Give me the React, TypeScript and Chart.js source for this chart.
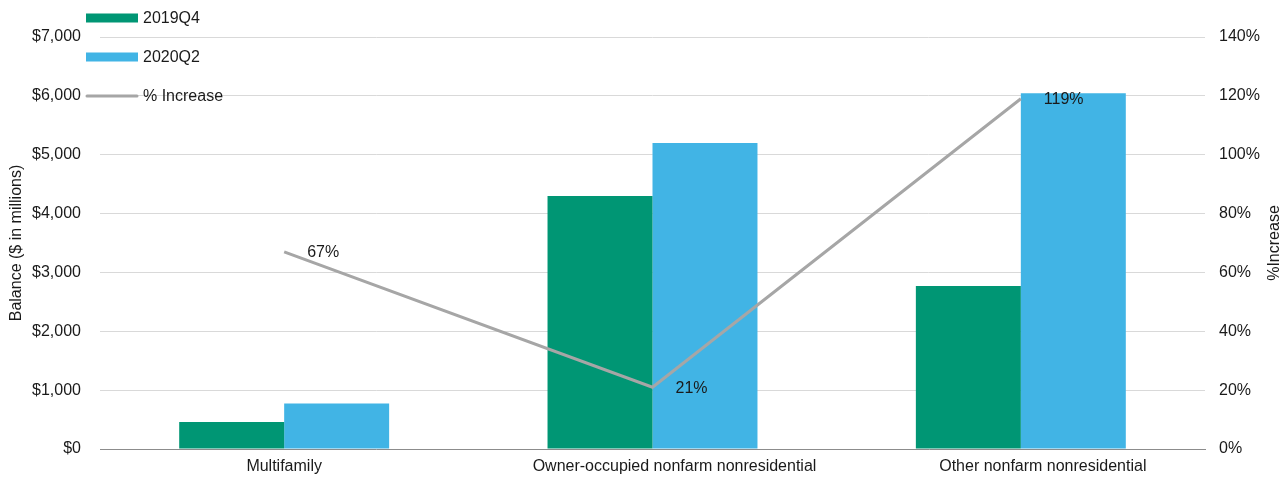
import React, { useEffect, useRef } from "react";
import { Chart, registerables } from "chart.js";

Chart.register(...registerables);

const categories = ["Multifamily", "Owner-occupied nonfarm nonresidential", "Other nonfarm nonresidential"];
const balance2019Q4 = [460, 4300, 2770];
const balance2020Q2 = [775, 5200, 6045];
const pctIncrease = [67, 21, 119];
const seriesNames = ["2019Q4", "2020Q2", "% Increase"];
const leftTitle = "Balance ($ in millions)";
const rightTitle = "%Increase";

const GREEN = "#009674";
const BLUE = "#41b4e5";
const GRAY = "#a6a6a6";
const FONT = "'Liberation Sans', Arial, sans-serif";
const TEXT = "#1a1a1a";
const FS = 16;
// horizontal nudge of the category labels, as in the reference layout
const LABEL_NUDGE = [0, 22, 22];

const overlayPlugin = {
  id: "overlay",
  afterDatasetsDraw(chart: any) {
    const ctx = chart.ctx;
    const area = chart.chartArea;
    ctx.save();
    // line point labels
    const meta = chart.getDatasetMeta(2);
    ctx.font = `${FS}px ${FONT}`;
    ctx.fillStyle = TEXT;
    ctx.textBaseline = "middle";
    ctx.textAlign = "left";
    meta.data.forEach((pt: any, i: number) => {
      ctx.fillText(pctIncrease[i] + "%", pt.x + 23, pt.y + 1);
    });
    // category labels
    const xs = chart.scales.x;
    ctx.textAlign = "center";
    categories.forEach((c, i) => {
      ctx.fillText(c, xs.getPixelForValue(i) + LABEL_NUDGE[i], area.bottom + 18);
    });
    // axis titles (both read bottom-to-top)
    const cy = (area.top + area.bottom) / 2;
    [[17, leftTitle], [1275, rightTitle]].forEach(([x, t]: any) => {
      ctx.save();
      ctx.translate(x, cy);
      ctx.rotate(-Math.PI / 2);
      ctx.textAlign = "center";
      ctx.textBaseline = "middle";
      ctx.fillStyle = TEXT;
      ctx.fillText(t, 0, 0);
      ctx.restore();
    });
    // custom legend
    const colors = [GREEN, BLUE, GRAY];
    const rows = [18, 57, 96];
    rows.forEach((y, i) => {
      if (i < 2) {
        ctx.fillStyle = colors[i];
        ctx.fillRect(86, y - 4.5, 52, 9);
      } else {
        ctx.strokeStyle = GRAY;
        ctx.lineWidth = 3;
        ctx.lineCap = "round";
        ctx.beginPath();
        ctx.moveTo(87, y);
        ctx.lineTo(137, y);
        ctx.stroke();
      }
      ctx.fillStyle = TEXT;
      ctx.font = `${FS}px ${FONT}`;
      ctx.textAlign = "left";
      ctx.textBaseline = "middle";
      ctx.fillText(seriesNames[i], 143, y + 1);
    });
    ctx.restore();
  },
};

export default function App() {
  const ref = useRef<HTMLCanvasElement>(null);
  useEffect(() => {
    if (!ref.current) return;
    const chart = new Chart(ref.current, {
      type: "bar",
      data: {
        labels: categories,
        datasets: [
          {
            type: "bar",
            label: seriesNames[0],
            data: balance2019Q4,
            backgroundColor: GREEN,
            yAxisID: "y",
            order: 2,
            categoryPercentage: 0.57,
            barPercentage: 1.0,
          },
          {
            type: "bar",
            label: seriesNames[1],
            data: balance2020Q2,
            backgroundColor: BLUE,
            yAxisID: "y",
            order: 2,
            categoryPercentage: 0.57,
            barPercentage: 1.0,
          },
          {
            type: "line",
            label: seriesNames[2],
            data: pctIncrease,
            borderColor: GRAY,
            borderWidth: 3,
            pointRadius: 0,
            yAxisID: "y1",
            order: 0,
            tension: 0,
          } as any,
        ],
      },
      options: {
        responsive: false,
        animation: false,
        layout: { padding: { top: 37, left: 0, right: 0, bottom: 0 } },
        plugins: {
          legend: { display: false },
          tooltip: { enabled: false },
        },
        scales: {
          x: {
            grid: { display: false, drawTicks: false },
            border: { display: true, color: "#8c8c8c", width: 1 },
            ticks: { display: false },
            afterFit(scale: any) {
              scale.height = 29;
            },
          },
          y: {
            position: "left",
            min: 0,
            max: 7000,
            ticks: {
              stepSize: 1000,
              color: TEXT,
              font: { family: FONT, size: FS },
              padding: 19,
              callback: (v: any) => "$" + Number(v).toLocaleString("en-US"),
            },
            grid: { color: "#d9d9d9", drawTicks: false },
            border: { display: false },
            afterFit(scale: any) {
              scale.width = 100;
            },
          },
          y1: {
            position: "right",
            min: 0,
            max: 140,
            ticks: {
              stepSize: 20,
              color: TEXT,
              font: { family: FONT, size: FS },
              padding: 14,
              callback: (v: any) => v + "%",
            },
            grid: { display: false, drawTicks: false },
            border: { display: false },
            afterFit(scale: any) {
              scale.width = 83;
            },
          },
        },
      },
      plugins: [overlayPlugin],
    });
    return () => chart.destroy();
  }, []);
  return (
    <div style={{ position: "fixed", left: 0, top: 0, width: 1288, height: 478, background: "#fff" }}>
      <canvas ref={ref} width={1288} height={478} style={{ display: "block" }} />
    </div>
  );
}
